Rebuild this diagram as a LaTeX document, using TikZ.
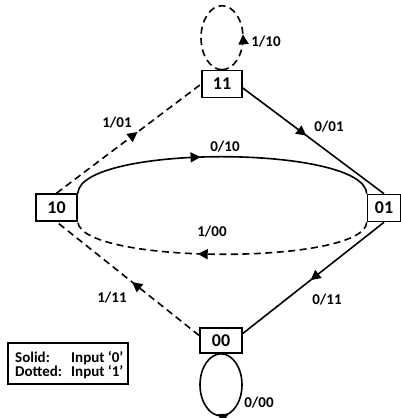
\documentclass[tikz,border=0pt]{standalone}
\usepackage{fontspec}
\setmainfont{Carlito}
\usetikzlibrary{arrows.meta,decorations.markings}
\tikzset{
  state/.style={draw, line width=1.6pt, rectangle, inner sep=0pt, minimum width=40pt, minimum height=27pt, font=\fontsize{18}{20}\selectfont\bfseries},
  lbl/.style={font=\fontsize{15}{17}\selectfont\bfseries, inner sep=0pt},
  edge/.style={line width=1.6pt},
  dsh/.style={edge, dash pattern=on 7pt off 4.5pt},
  midarrow/.style={decoration={markings, mark=at position #1 with {\arrow{Triangle[length=10pt,width=10pt]}}}, postaction=decorate}
}
\begin{document}
\begin{tikzpicture}[x=1pt,y=1pt]
\useasboundingbox (0,0) rectangle (401,418);
\node[state] (n11) at (222,334) {11};
\node[state, minimum width=41pt] (n10) at (56.5,210.5) {10};
\node[state, minimum width=33pt] (n01) at (384,210) {01};
\node[state, minimum width=42pt, minimum height=25pt] (n00) at (221,77.5) {00};
% edges
\draw[dsh, midarrow=0.56] (n10.north) -- (n11.west);
\draw[edge, midarrow=0.45] ([yshift=-4pt]n11.east) -- (n01.north);
\draw[edge, midarrow=0.52] (n01.south) -- ([yshift=7pt]n00.east);
\draw[dsh, midarrow=0.47] ([yshift=5pt]n00.west) -- (n10.south);
\draw[edge, midarrow=0.43] (n10.north east) .. controls +(3,49) and +(-2,49) .. (n01.north west);
\draw[dsh, midarrow=0.58] (n01.south west) .. controls +(-2,-43) and +(3,-43) .. (n10.south east);
% self loops
\draw[dsh, midarrow=0.27] (n11.north) arc[start angle=-90, end angle=270, x radius=21pt, y radius=32pt];
\draw[edge, midarrow=0.55] (n00.south) arc[start angle=90, end angle=450, x radius=21pt, y radius=31pt];
% labels
\node[lbl] (l1) at (266,376) {1/10};
\node[lbl] (l2) at (117,295) {1/01};
\node[lbl] (l3) at (225,271) {0/10};
\node[lbl] (l4) at (329,291) {0/01};
\node[lbl] (l5) at (212,186) {1/00};
\node[lbl] (l6) at (327,118) {0/11};
\node[lbl] (l7) at (112,120) {1/11};
\node[lbl] (l8) at (259,15) {0/00};
% legend
\node[draw, line width=1.4pt, minimum width=120pt, minimum height=41pt, inner sep=0pt] (leg) at (68,54.5) {};
\node[lbl, anchor=base west] (s1) at (15,56) {Solid:};
\node[lbl, anchor=base west] (s2) at (71,56) {Input ‘0’};
\node[lbl, anchor=base west] (d1) at (15,41) {Dotted:};
\node[lbl, anchor=base west] (d2) at (71,41) {Input ‘1’};
\end{tikzpicture}
\end{document}
